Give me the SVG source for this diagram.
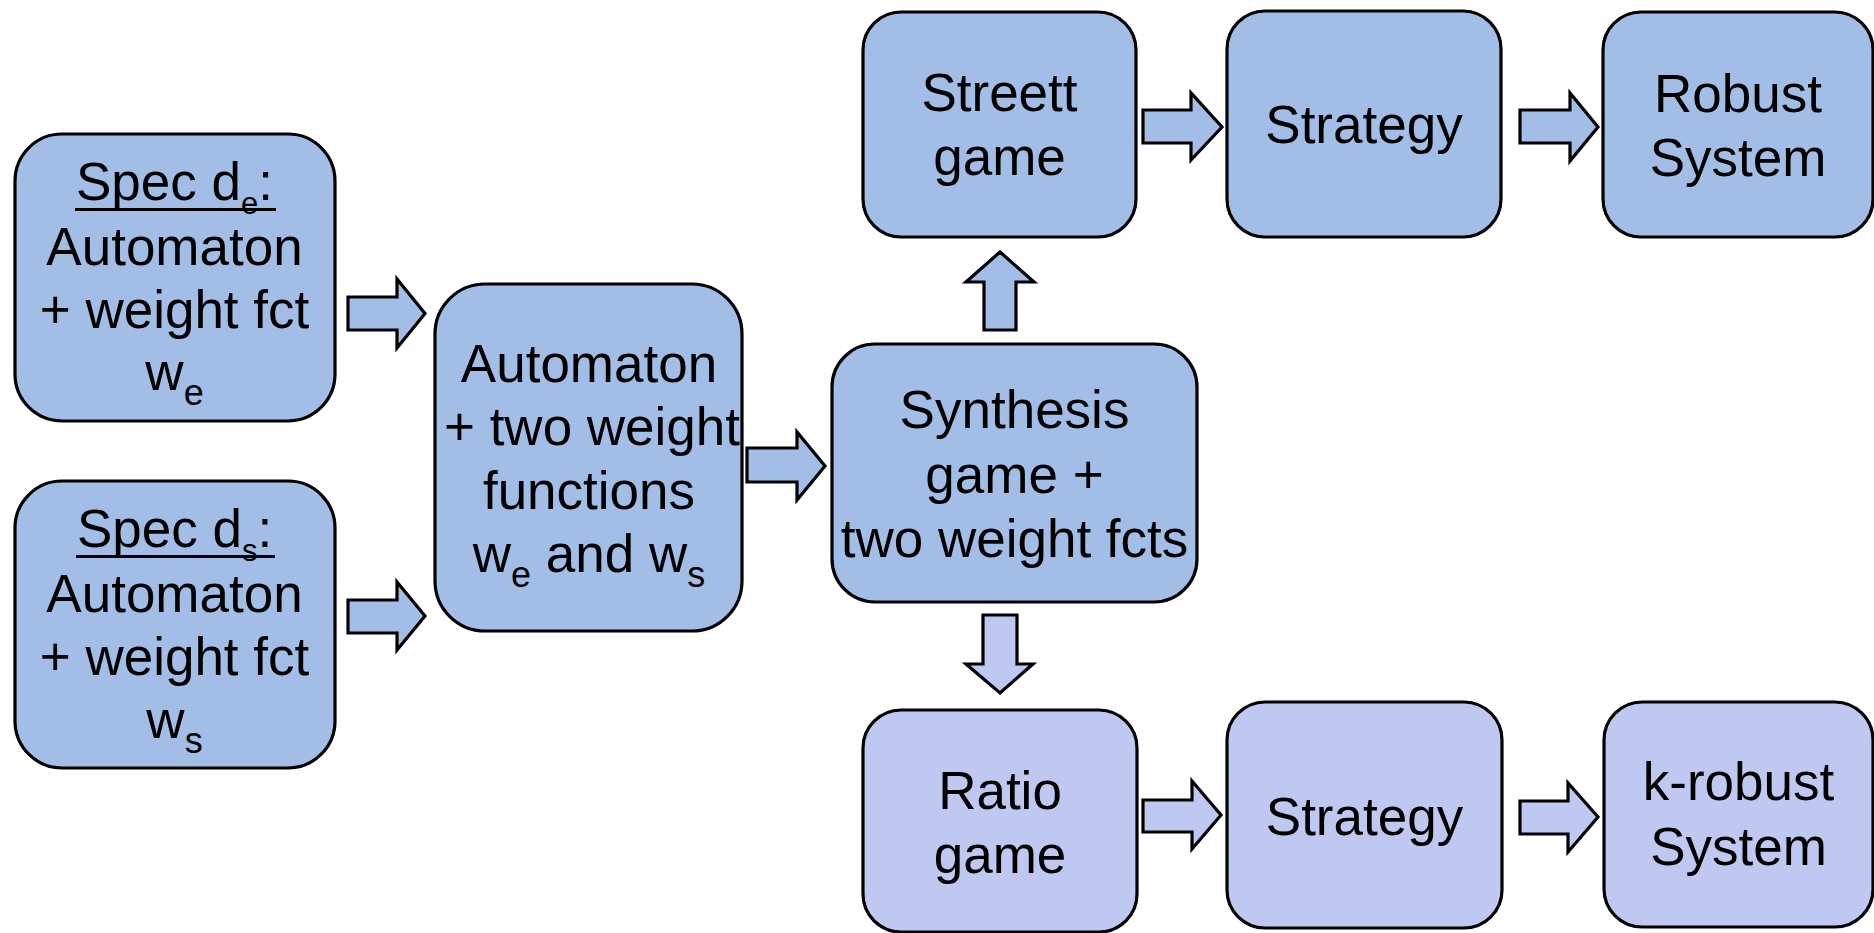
<svg xmlns="http://www.w3.org/2000/svg" width="1874" height="933" viewBox="0 0 1874 933">
  <style>
    .box { stroke: #000; stroke-width: 3.2; }
    .blue { fill: #a2bee6; }
    .lav { fill: #bfc8f0; }
    .arrow { stroke: #000; stroke-width: 3.2; stroke-linejoin: miter; }
    .t { font-family: "Liberation Sans", Arial, Helvetica, sans-serif; font-size: 53px; fill: #000; text-anchor: middle; }
    .sub1 { font-size: 31px; }
    .sub { font-size: 36px; }
    .ul { stroke: #000; stroke-width: 3; }
  </style>

  <rect width="1874" height="933" fill="#fff"/>

  <!-- Connectors: block arrows -->
  <g id="connectors">
    <polygon class="arrow blue" points="348,297 397,297 397,279 425,313.5 397,348 397,330 348,330"/>
    <polygon class="arrow blue" points="348,600 397,600 397,582 425,616 397,650 397,633 348,633"/>
    <polygon class="arrow blue" points="747,448 797,448 797,432 825,466 797,500 797,482 747,482"/>
    <polygon class="arrow blue" points="984,330 984,282 966,282 1000,252 1034,282 1016,282 1016,330"/>
    <polygon class="arrow blue" points="1143,110 1191,110 1191,93 1222,127 1191,160 1191,143 1143,143"/>
    <polygon class="arrow blue" points="1520,110 1570,110 1570,93 1598,127 1570,161 1570,143 1520,143"/>
    <polygon class="arrow lav" points="983,615 1017,615 1017,664 1033,664 1000,693 966,664 983,664"/>
    <polygon class="arrow lav" points="1143,800 1192,800 1192,781 1221,815 1192,849 1192,832 1143,832"/>
    <polygon class="arrow lav" points="1520,801 1568,801 1568,783 1598,817 1568,852 1568,834 1520,834"/>
  </g>

  <!-- Specification d_e -->
  <g id="spec-de">
    <rect class="box blue" x="15" y="134" width="320" height="287" rx="47"/>
    <text class="t" x="174.5" y="200"><tspan>Spec d</tspan><tspan class="sub1" dy="14">e</tspan><tspan dy="-14">:</tspan></text>
    <line class="ul" x1="75" y1="209.5" x2="276" y2="209.5"/>
    <text class="t" x="174.5" y="265">Automaton</text>
    <text class="t" x="174.5" y="328">+ weight fct</text>
    <text class="t" x="174.5" y="390"><tspan>w</tspan><tspan class="sub" dy="15">e</tspan></text>
  </g>

  <!-- Specification d_s -->
  <g id="spec-ds">
    <rect class="box blue" x="15" y="481" width="320" height="287" rx="47"/>
    <text class="t" x="174.5" y="547"><tspan>Spec d</tspan><tspan class="sub1" dy="14">s</tspan><tspan dy="-14">:</tspan></text>
    <line class="ul" x1="76" y1="556.5" x2="275" y2="556.5"/>
    <text class="t" x="174.5" y="612">Automaton</text>
    <text class="t" x="174.5" y="675">+ weight fct</text>
    <text class="t" x="174.5" y="738"><tspan>w</tspan><tspan class="sub" dy="15">s</tspan></text>
  </g>

  <!-- Combined automaton -->
  <g id="combined">
    <rect class="box blue" x="435" y="284" width="307" height="347" rx="50"/>
    <text class="t" x="589" y="382">Automaton</text>
    <text class="t" x="592" y="445">+ two weight</text>
    <text class="t" x="589" y="509">functions</text>
    <text class="t" x="589" y="572"><tspan>w</tspan><tspan class="sub" dy="15">e</tspan><tspan dy="-15"> and w</tspan><tspan class="sub" dy="15">s</tspan></text>
  </g>

  <!-- Synthesis game -->
  <g id="synthesis">
    <rect class="box blue" x="832" y="344" width="365" height="258" rx="43"/>
    <text class="t" x="1014.5" y="428">Synthesis</text>
    <text class="t" x="1014.5" y="493">game +</text>
    <text class="t" x="1014.5" y="557">two weight fcts</text>
  </g>

  <!-- Streett game -->
  <g id="streett">
    <rect class="box blue" x="863" y="12" width="273" height="225" rx="38"/>
    <text class="t" x="999.5" y="111">Streett</text>
    <text class="t" x="999.5" y="175">game</text>
  </g>

  <!-- Strategy (top) -->
  <g id="strategy-top">
    <rect class="box blue" x="1227" y="11" width="274" height="226" rx="38"/>
    <text class="t" x="1364" y="143">Strategy</text>
  </g>

  <!-- Robust system -->
  <g id="robust">
    <rect class="box blue" x="1603" y="12" width="270" height="225" rx="38"/>
    <text class="t" x="1738" y="112">Robust</text>
    <text class="t" x="1738" y="176">System</text>
  </g>

  <!-- Ratio game -->
  <g id="ratio">
    <rect class="box lav" x="863" y="710" width="274" height="222" rx="38"/>
    <text class="t" x="1000" y="809">Ratio</text>
    <text class="t" x="1000" y="873">game</text>
  </g>

  <!-- Strategy (bottom) -->
  <g id="strategy-bottom">
    <rect class="box lav" x="1227" y="702" width="275" height="226" rx="38"/>
    <text class="t" x="1364.5" y="835">Strategy</text>
  </g>

  <!-- k-robust system -->
  <g id="k-robust">
    <rect class="box lav" x="1604" y="702" width="269" height="225" rx="38"/>
    <text class="t" x="1738.5" y="800">k-robust</text>
    <text class="t" x="1738.5" y="865">System</text>
  </g>
</svg>
